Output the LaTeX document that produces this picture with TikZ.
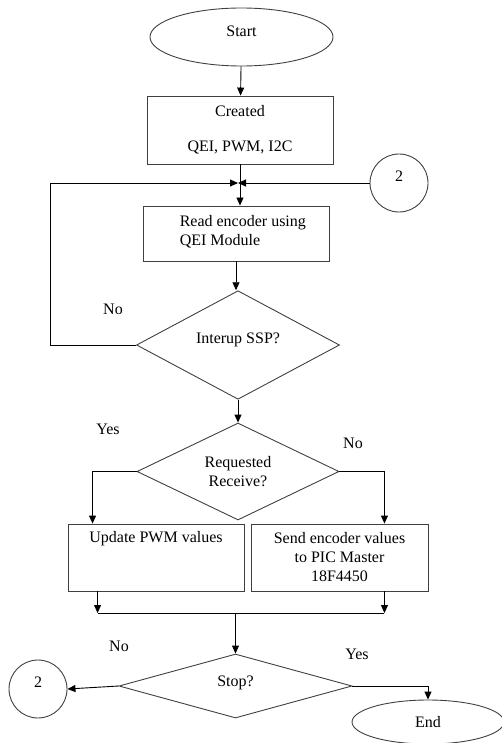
\documentclass[tikz,border=0pt]{standalone}
\usepackage{fontspec}
\setmainfont{Liberation Serif}
\usetikzlibrary{shapes.geometric,arrows.meta}
\begin{document}
\begin{tikzpicture}[x=1pt,y=-1pt,
  every node/.style={font=\fontsize{16}{19}\selectfont, inner sep=1pt},
  shapeline/.style={draw=black!75, line width=0.9pt},
  terminal/.style={shapeline, ellipse, minimum width=#1, minimum height=58pt},
  procbox/.style={shapeline, rectangle},
  decision/.style={shapeline, diamond, inner sep=0pt},
  connector/.style={shapeline, circle, minimum size=58pt},
  flow/.style={line width=0.9pt, draw=black},
  arr/.style={flow, -{Triangle[length=8pt,width=7pt]}},
  lift/.style={text depth=#1}
]
\useasboundingbox (0,0) rectangle (502,743);

% --- shapes ---
\node[terminal=183pt, lift=12pt] (start) at (241.5,37) {Start};
\node[procbox, minimum width=186pt, minimum height=68pt, align=center]
  (init) at (240,130) {Created\\[16pt]QEI, PWM, I2C};
\node[procbox, minimum width=186pt, minimum height=55pt] (read) at (236,233.5) {};
\node[anchor=west, align=left] (readtxt) at ([xshift=36pt,yshift=2pt]read.west)
  {Read encoder using\\QEI Module};
\node[decision, minimum width=203pt, minimum height=84pt, lift=14pt]
  (intr) at (238,345) {Interup SSP?};
\node[decision, minimum width=202pt, minimum height=85pt, align=center]
  (req) at (238,471.5) {Requested\\Receive?};
\node[procbox, minimum width=176pt, minimum height=67pt] (update) at (156,557.5) {};
\node[anchor=north] (updtxt) at ([yshift=-7pt]update.north) {Update PWM values};
\node[procbox, minimum width=177pt, minimum height=67pt, align=center]
  (send) at (339.5,557.5) {Send encoder values\\to PIC Master\\18F4450};
\node[decision, minimum width=233pt, minimum height=64pt, lift=10pt]
  (stop) at (235.5,686) {Stop?};
\node[connector, lift=14pt] (conA) at (399,183) {2};
\node[connector, lift=14pt] (conB) at (38,689) {2};
\node[shapeline, ellipse, minimum width=152pt, minimum height=44pt] (finish) at (428,722) {End};

% --- labels ---
\node (noA) at (113,309) {No};
\node (yesA) at (108,429) {Yes};
\node (noB) at (353,443) {No};
\node (noC) at (119,646) {No};
\node (yesB) at (357,654) {Yes};

% --- junction points ---
\coordinate (join) at (238,183);
\coordinate (loopL) at (50,345);
\coordinate (merge) at (235.5,613);

% --- connectors ---
\draw[arr] (start) -- (init);
\draw[arr] (init.south) -- (init.south |- read.north);
\draw[arr] (intr.west) -- (loopL) |- (join);
\draw[arr] (conA.west) -- (join);
\draw[arr] (read.south) -- (read.south |- intr.north);
\draw[arr] (intr.south) -- (req.north);
\draw[arr] (req.west) -| ([xshift=25pt]update.north west);
\draw[arr] (req.east) -| ([xshift=-44pt]send.north east);
\draw[arr] ([xshift=30pt]update.south west) -- ([xshift=30pt]update.south west |- merge);
\draw[arr] ([xshift=-44pt]send.south east) -- ([xshift=-44pt]send.south east |- merge);
\draw[flow] ([xshift=30pt]update.south west |- merge) -- ([xshift=-44pt]send.south east |- merge);
\draw[arr] (merge) -- (merge |- stop.north);
\draw[arr] (stop.west) -- (conB.east);
\draw[arr] (stop.east) -| (finish.north);
\end{tikzpicture}
\end{document}
